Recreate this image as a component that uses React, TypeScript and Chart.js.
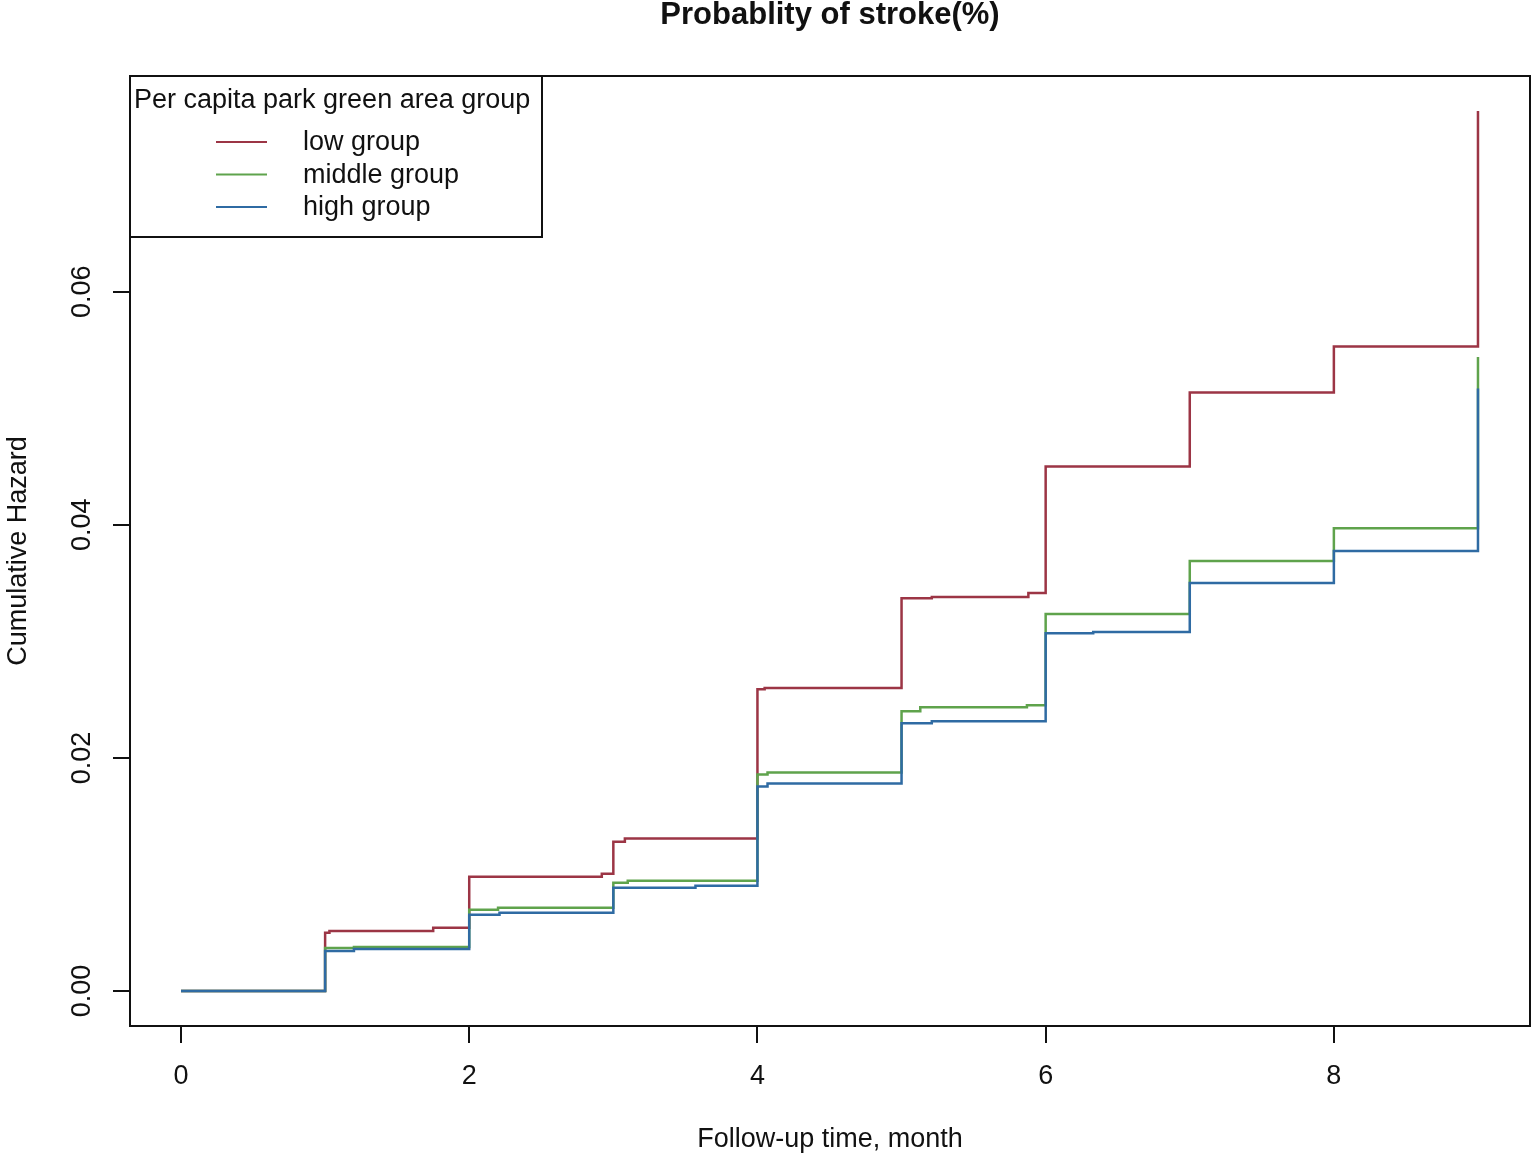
import { useEffect, useRef } from "react"
import { Chart, registerables } from "chart.js"

Chart.register(...registerables)

// follow-up time (month) at which each step happens, and cumulative hazard after the step
const lowTimes = [0, 1, 1.03, 1.75, 2, 2.92, 3, 3.08, 4, 4.05, 5, 5.21, 5.88, 6, 7, 8, 9]
const lowHazard = [0, 0.00499, 0.00516, 0.00542, 0.0098, 0.01006, 0.0128, 0.01308, 0.0259, 0.026, 0.0337, 0.0338, 0.03415, 0.045, 0.05135, 0.0553, 0.0755]

const middleTimes = [0, 1, 1.2, 2, 2.2, 3, 3.1, 4, 4.07, 5, 5.13, 5.87, 6, 7, 8, 9]
const middleHazard = [0, 0.0037, 0.00378, 0.00697, 0.00714, 0.0093, 0.00946, 0.01858, 0.01875, 0.024, 0.02434, 0.02452, 0.03235, 0.0369, 0.0397, 0.0544]

const highTimes = [0, 1, 1.2, 2, 2.21, 3, 3.57, 4, 4.07, 5, 5.21, 6, 6.33, 7, 8, 9]
const highHazard = [0, 0.00344, 0.00361, 0.00654, 0.00671, 0.00886, 0.00903, 0.01755, 0.0178, 0.02297, 0.02314, 0.0307, 0.0308, 0.035, 0.03776, 0.0517]

const groupLabels = ["low group", "middle group", "high group"]
const groupColors = ["#9c3545", "#5fa34c", "#2f6ba3"]

const xTicks = [0, 2, 4, 6, 8]
const yTicks = [0, 0.02, 0.04, 0.06]

const FONT = "'Liberation Sans', Arial, sans-serif"

const toPoints = (xs: number[], ys: number[]) => xs.map((x, i) => ({ x, y: ys[i] }))

// title, box around the plot and legend in the top-left corner
const framePlugin = {
  id: "frame",
  afterDraw(chart: any) {
    const { ctx, chartArea } = chart
    const { left, top, right, bottom } = chartArea
    ctx.save()

    ctx.fillStyle = "#111"
    ctx.font = `bold 31px ${FONT}`
    ctx.textAlign = "center"
    ctx.textBaseline = "middle"
    ctx.fillText("Probablity of stroke(%)", (left + right) / 2, 15)

    ctx.strokeStyle = "#111"
    ctx.lineWidth = 2
    ctx.strokeRect(left, top, right - left, bottom - top)

    // legend
    const boxW = 412
    const boxH = 161
    ctx.strokeRect(left, top, boxW, boxH)
    ctx.font = `27px ${FONT}`
    ctx.textAlign = "left"
    ctx.fillText("Per capita park green area group", left + 4, top + 25)
    groupLabels.forEach((label, i) => {
      const y = top + 66 + i * 32.5
      ctx.strokeStyle = groupColors[i]
      ctx.lineWidth = 2
      ctx.beginPath()
      ctx.moveTo(left + 86, y)
      ctx.lineTo(left + 137, y)
      ctx.stroke()
      ctx.fillText(label, left + 173, y + 1)
    })
    ctx.restore()
  },
}

export default function App() {
  const canvasRef = useRef<HTMLCanvasElement>(null)

  useEffect(() => {
    document.body.style.margin = "0"
    if (!canvasRef.current) return
    const ctx = canvasRef.current.getContext("2d")
    if (!ctx) return

    const series = [
      { times: lowTimes, hazard: lowHazard, order: 2 },
      { times: middleTimes, hazard: middleHazard, order: 1 },
      { times: highTimes, hazard: highHazard, order: 0 },
    ]

    const chart = new Chart(ctx, {
      type: "line",
      data: {
        datasets: series.map((s, i) => ({
          label: groupLabels[i],
          data: toPoints(s.times, s.hazard),
          borderColor: groupColors[i],
          backgroundColor: groupColors[i],
          borderWidth: 2.5,
          pointRadius: 0,
          stepped: "before" as const,
          order: s.order,
        })),
      },
      options: {
        responsive: false,
        animation: false,
        layout: { padding: { left: 0, right: 5, top: 76, bottom: 0 } },
        plugins: {
          legend: { display: false },
          tooltip: { enabled: false },
          title: { display: false },
        },
        scales: {
          x: {
            type: "linear",
            min: -0.354,
            max: 9.361,
            afterBuildTicks: (scale: any) => {
              scale.ticks = xTicks.map((v) => ({ value: v }))
            },
            afterFit: (scale: any) => {
              scale.height = 131
            },
            ticks: {
              color: "#111",
              font: { family: FONT, size: 27 },
              padding: 17,
              maxRotation: 0,
              autoSkip: false,
              callback: (v: any) => String(v),
            },
            grid: {
              drawOnChartArea: false,
              drawTicks: true,
              tickLength: 17,
              color: "#111",
              lineWidth: 2,
            },
            border: { display: true, color: "#111", width: 2 },
            title: {
              display: true,
              text: "Follow-up time, month",
              color: "#111",
              font: { family: FONT, size: 27 },
              padding: { top: 0, bottom: 1 },
            },
          },
          y: {
            type: "linear",
            min: -0.003,
            max: 0.0785,
            afterBuildTicks: (scale: any) => {
              scale.ticks = yTicks.map((v) => ({ value: v }))
            },
            afterFit: (scale: any) => {
              scale.width = 130
            },
            ticks: {
              color: "#111",
              font: { family: FONT, size: 27 },
              padding: 4,
              minRotation: 90,
              maxRotation: 90,
              crossAlign: "center",
              autoSkip: false,
              callback: (v: any) => Number(v).toFixed(2),
            },
            grid: {
              drawOnChartArea: false,
              drawTicks: true,
              tickLength: 17,
              color: "#111",
              lineWidth: 2,
            },
            border: { display: true, color: "#111", width: 2 },
            title: {
              display: true,
              text: "Cumulative Hazard",
              color: "#111",
              font: { family: FONT, size: 27 },
              padding: { top: 2, bottom: 0 },
            },
          },
        },
      },
      plugins: [framePlugin],
    })

    return () => {
      chart.destroy()
    }
  }, [])

  return (
    <div style={{ width: 1535, height: 1157, background: "#fff" }}>
      <canvas ref={canvasRef} width={1535} height={1157}></canvas>
    </div>
  )
}
